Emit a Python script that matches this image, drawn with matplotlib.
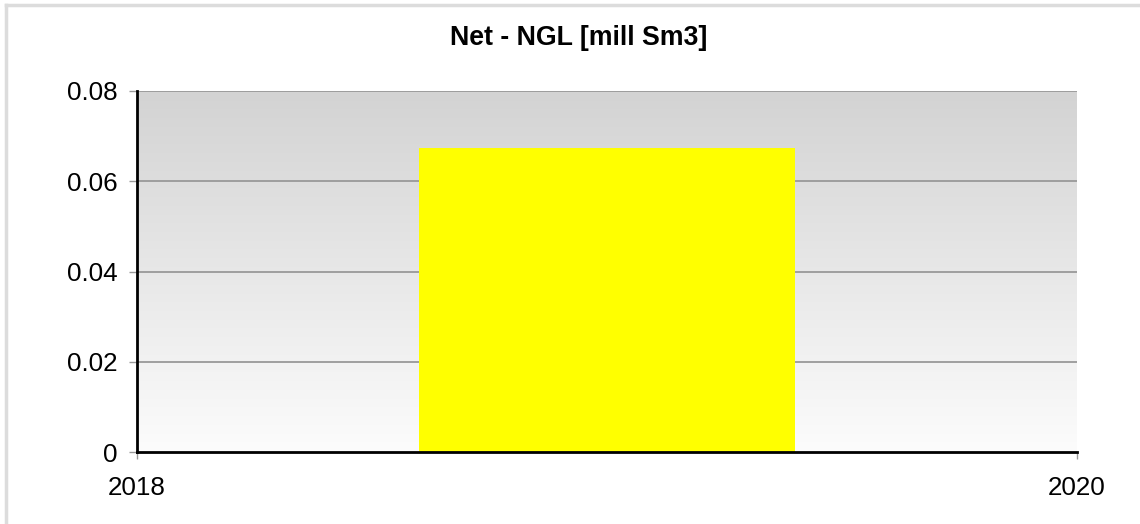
import matplotlib.pyplot as plt
import numpy as np
from matplotlib.lines import Line2D
from matplotlib.colors import LinearSegmentedColormap

# data
years = [2019]
values = [0.0674]
title = 'Net - NGL [mill Sm3]'
yticks = [0, 0.02, 0.04, 0.06, 0.08]
ytick_labels = ['0', '0.02', '0.04', '0.06', '0.08']
xticks = [2018, 2020]

plt.rcParams['font.family'] = ['Liberation Sans', 'DejaVu Sans']

fig = plt.figure(figsize=(11.4, 5.24), dpi=100)
ax = fig.add_axes([137 / 1140, 1 - 452 / 524, (1076.5 - 137) / 1140, (452 - 91) / 524])

# gradient background, darker at the top
grad = np.linspace(0, 1, 256).reshape(-1, 1)
cmap = LinearSegmentedColormap.from_list('bg', ['#fcfcfc', '#d3d3d3'])
ax.imshow(grad, aspect='auto', cmap=cmap, extent=[2018, 2020, 0, 0.08],
          origin='lower', zorder=0)

ax.bar(years, values, width=0.8, color='#ffff00', zorder=3)

ax.set_xlim(2018, 2020)
ax.set_ylim(0, 0.08)
ax.set_yticks(yticks)
ax.set_yticklabels(ytick_labels)
ax.set_xticks(xticks)
ax.set_xticklabels([str(x) for x in xticks])

for y in yticks[1:]:
    ax.axhline(y, color='#999999', lw=1.3, zorder=2)

for s in ['top', 'right']:
    ax.spines[s].set_visible(False)
for s in ['left', 'bottom']:
    ax.spines[s].set_color('black')
    ax.spines[s].set_linewidth(2)
    ax.spines[s].set_zorder(4)

ax.tick_params(axis='y', direction='out', length=6, width=1, color='#999999',
               labelsize=18.7, pad=8)
ax.tick_params(axis='x', direction='out', length=5, width=1, color='#999999',
               labelsize=18.7, pad=12)

fig.text(579 / 1140, 1 - 38 / 524, title, ha='center', va='center',
         fontsize=19.3, fontweight='bold')

# light frame
fig.add_artist(Line2D([6 / 1140, 1], [1 - 5 / 524, 1 - 5 / 524], color='#dcdcdc', lw=2.5))
fig.add_artist(Line2D([6 / 1140, 6 / 1140], [0, 1 - 5 / 524], color='#dcdcdc', lw=2.5))

fig.savefig('out.png', dpi=100)
